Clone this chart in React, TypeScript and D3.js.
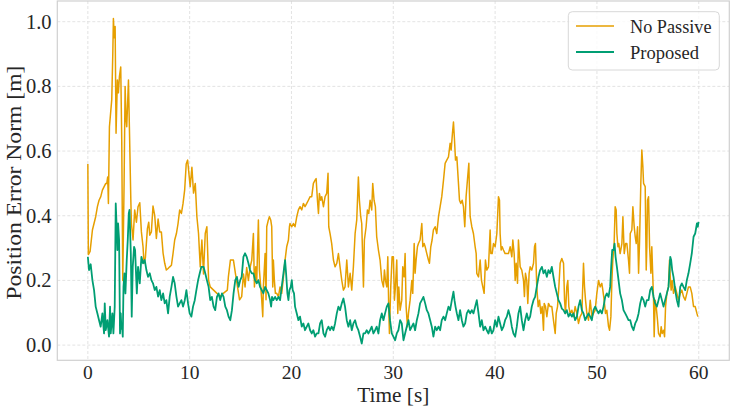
import React from 'react';
import * as d3 from 'd3';

// [time s, error m]
const noPassive: [number, number][] = [
  [0.0, 0.56], [0.05, 0.28], [0.22, 0.29], [0.45, 0.356], [0.77, 0.397], [0.94, 0.428], [1.1, 0.448],
  [1.27, 0.459], [1.43, 0.479], [1.6, 0.49], [1.76, 0.5], [1.86, 0.5], [1.95, 0.52], [2.02, 0.438],
  [2.12, 0.675], [2.35, 0.76],
  [2.45, 0.9], [2.51, 1.01], [2.6, 0.95], [2.68, 0.985], [2.77, 0.655], [2.9, 0.82], [3.0, 0.78],
  [3.1, 0.83], [3.23, 0.86], [3.33, 0.63], [3.43, 0.2], [3.56, 0.5], [3.66, 0.8], [3.75, 0.7],
  [3.82, 0.675], [3.99, 0.82], [4.08, 0.675], [4.22, 0.45], [4.28, 0.376], [4.44, 0.325], [4.6, 0.418],
  [4.77, 0.38], [4.93, 0.428], [5.1, 0.44], [5.26, 0.35], [5.42, 0.304], [5.52, 0.253], [5.65, 0.27],
  [5.85, 0.36], [5.98, 0.38], [6.08, 0.34], [6.24, 0.35], [6.4, 0.43], [6.57, 0.4], [6.73, 0.33],
  [6.9, 0.39], [7.06, 0.35], [7.22, 0.35], [7.39, 0.284], [7.55, 0.253], [7.71, 0.232], [7.88, 0.237],
  [8.04, 0.242], [8.21, 0.247], [8.37, 0.284], [8.53, 0.325], [8.7, 0.345], [8.86, 0.376], [9.02, 0.418],
  [9.19, 0.407], [9.35, 0.438], [9.51, 0.48], [9.66, 0.56], [9.8, 0.572], [10.05, 0.49], [10.22, 0.55],
  [10.38, 0.47], [10.55, 0.5], [10.71, 0.397], [10.87, 0.345], [11.04, 0.242], [11.2, 0.325], [11.36, 0.22],
  [11.53, 0.345], [11.69, 0.366], [11.86, 0.2], [12.02, 0.18], [12.35, 0.17], [12.68, 0.16], [13.0, 0.15],
  [13.3, 0.16], [13.7, 0.17], [13.8, 0.21], [14.0, 0.263], [14.3, 0.263], [14.5, 0.22], [14.6, 0.2],
  [14.9, 0.14], [15.11, 0.15], [15.28, 0.22], [15.44, 0.18], [15.6, 0.24], [15.77, 0.2], [15.93, 0.24],
  [16.1, 0.263], [16.26, 0.345], [16.36, 0.18], [16.49, 0.242], [16.59, 0.2], [16.75, 0.387], [16.85, 0.232],
  [16.98, 0.18], [17.08, 0.14], [17.18, 0.088], [17.24, 0.18], [17.41, 0.283], [17.5, 0.14], [17.57, 0.366],
  [17.73, 0.387], [17.83, 0.397], [17.96, 0.387], [18.06, 0.366], [18.16, 0.18], [18.22, 0.263], [18.32, 0.2],
  [18.42, 0.16], [18.55, 0.16], [18.72, 0.15], [18.88, 0.18], [19.04, 0.16], [19.21, 0.21], [19.37, 0.263],
  [19.53, 0.304], [19.7, 0.325], [19.8, 0.366], [19.86, 0.376], [20.03, 0.366], [20.19, 0.376], [20.35, 0.366],
  [20.52, 0.397], [20.68, 0.418], [20.84, 0.428], [21.01, 0.418], [21.17, 0.438], [21.33, 0.428], [21.5, 0.438],
  [21.66, 0.448], [21.83, 0.459], [21.99, 0.459], [22.15, 0.5], [22.32, 0.51], [22.42, 0.515], [22.55, 0.448],
  [22.65, 0.407], [22.74, 0.469], [22.87, 0.448], [22.97, 0.459], [23.14, 0.428], [23.3, 0.459], [23.46, 0.469],
  [23.59, 0.531], [23.66, 0.366], [23.79, 0.345], [23.95, 0.314], [24.12, 0.263], [24.28, 0.242], [24.45, 0.253],
  [24.61, 0.283], [24.77, 0.242], [24.94, 0.2], [25.1, 0.17], [25.26, 0.18], [25.43, 0.263], [25.59, 0.18],
  [25.76, 0.222], [25.92, 0.17], [26.08, 0.242], [26.25, 0.345], [26.41, 0.387], [26.57, 0.52], [26.67, 0.448],
  [26.8, 0.397], [26.9, 0.376], [27.07, 0.18], [27.16, 0.325], [27.33, 0.366], [27.46, 0.418], [27.59, 0.407],
  [27.72, 0.448], [27.88, 0.418], [27.98, 0.5], [28.11, 0.448], [28.24, 0.428], [28.37, 0.335], [28.54, 0.294],
  [28.7, 0.263], [28.87, 0.2], [29.03, 0.18], [29.13, 0.232], [29.23, 0.2], [29.36, 0.18], [29.46, 0.273],
  [29.55, 0.119], [29.62, 0.036], [29.75, 0.18], [29.88, 0.273], [30.01, 0.273], [30.11, 0.139], [30.21, 0.18],
  [30.34, 0.263], [30.44, 0.098], [30.54, 0.18], [30.67, 0.108], [30.83, 0.139], [30.93, 0.242], [31.06, 0.211],
  [31.16, 0.283], [31.26, 0.119], [31.39, 0.057], [31.49, 0.098], [31.65, 0.139], [31.82, 0.2], [31.91, 0.16],
  [32.05, 0.314], [32.14, 0.222], [32.24, 0.263], [32.37, 0.304], [32.47, 0.314], [32.63, 0.325], [32.8, 0.376],
  [32.9, 0.304], [33.03, 0.314], [33.13, 0.304], [33.29, 0.283], [33.45, 0.263], [33.55, 0.253], [33.68, 0.304],
  [33.81, 0.325], [33.94, 0.356], [34.11, 0.366], [34.27, 0.345], [34.44, 0.397], [34.6, 0.428], [34.76, 0.459],
  [34.93, 0.51], [35.09, 0.562], [35.25, 0.572], [35.42, 0.582], [35.58, 0.624], [35.68, 0.603], [35.81, 0.655],
  [35.91, 0.69], [36.01, 0.634], [36.11, 0.572], [36.24, 0.582], [36.4, 0.5], [36.5, 0.448], [36.63, 0.438],
  [36.76, 0.448], [36.89, 0.428], [37.02, 0.366], [37.15, 0.459], [37.28, 0.51], [37.42, 0.562], [37.48, 0.469],
  [37.55, 0.397], [37.71, 0.366], [37.87, 0.345], [38.04, 0.304], [38.14, 0.283], [38.2, 0.222], [38.37, 0.211],
  [38.53, 0.263], [38.66, 0.2], [38.79, 0.18], [38.92, 0.16], [39.05, 0.263], [39.18, 0.232], [39.35, 0.242],
  [39.51, 0.356], [39.58, 0.283], [39.71, 0.283], [39.84, 0.314], [40.0, 0.304], [40.17, 0.345], [40.33, 0.459],
  [40.43, 0.448], [40.49, 0.345], [40.59, 0.294], [40.69, 0.304], [40.82, 0.294], [40.98, 0.283], [41.15, 0.283],
  [41.31, 0.283], [41.48, 0.304], [41.64, 0.273], [41.74, 0.325], [41.87, 0.283], [41.97, 0.2], [42.07, 0.253],
  [42.2, 0.191], [42.29, 0.325], [42.46, 0.242], [42.62, 0.232], [42.79, 0.2], [42.88, 0.15], [42.98, 0.222],
  [43.11, 0.2], [43.21, 0.129], [43.34, 0.222], [43.44, 0.242], [43.6, 0.232], [43.77, 0.253], [43.87, 0.304],
  [43.96, 0.314], [44.09, 0.18], [44.23, 0.119], [44.36, 0.139], [44.49, 0.098], [44.62, 0.119], [44.75, 0.046],
  [44.82, 0.129], [44.95, 0.119], [45.08, 0.088], [45.24, 0.129], [45.4, 0.119], [45.57, 0.119], [45.73, 0.077],
  [45.9, 0.036], [46.0, 0.098], [46.13, 0.119], [46.26, 0.18], [46.39, 0.253], [46.55, 0.268], [46.72, 0.253],
  [46.82, 0.139], [46.91, 0.098], [47.04, 0.18], [47.14, 0.2], [47.24, 0.119], [47.37, 0.098], [47.54, 0.108],
  [47.7, 0.088], [47.86, 0.119], [48.03, 0.098], [48.19, 0.067], [48.35, 0.088], [48.52, 0.098], [48.68, 0.253],
  [48.78, 0.18], [48.88, 0.139], [49.01, 0.098], [49.17, 0.077], [49.34, 0.139], [49.5, 0.088], [49.66, 0.098],
  [49.83, 0.108], [49.99, 0.16], [50.16, 0.2], [50.32, 0.18], [50.48, 0.191], [50.58, 0.17], [50.71, 0.139],
  [50.84, 0.098], [50.97, 0.108], [51.14, 0.057], [51.24, 0.046], [51.37, 0.088], [51.47, 0.2], [51.56, 0.263],
  [51.69, 0.314], [51.79, 0.428], [51.89, 0.418], [51.96, 0.345], [52.06, 0.304], [52.15, 0.314], [52.28, 0.283],
  [52.45, 0.314], [52.55, 0.397], [52.68, 0.283], [52.81, 0.314], [52.94, 0.314], [53.1, 0.263], [53.2, 0.222],
  [53.27, 0.345], [53.43, 0.356], [53.53, 0.428], [53.66, 0.366], [53.76, 0.335], [53.86, 0.314], [53.99, 0.366],
  [54.09, 0.222], [54.18, 0.314], [54.31, 0.5], [54.41, 0.603], [54.51, 0.552], [54.58, 0.5], [54.74, 0.49],
  [54.84, 0.232], [54.9, 0.304], [54.97, 0.448], [55.07, 0.459], [55.17, 0.304], [55.3, 0.222], [55.39, 0.304],
  [55.56, 0.139], [55.62, 0.026], [55.72, 0.139], [55.82, 0.119], [55.95, 0.077], [56.05, 0.036], [56.21, 0.026],
  [56.31, 0.057], [56.41, 0.036], [56.54, 0.046], [56.64, 0.026], [56.74, 0.119], [56.87, 0.16], [57.03, 0.18],
  [57.13, 0.263], [57.2, 0.211], [57.29, 0.17], [57.39, 0.2], [57.52, 0.16], [57.69, 0.18], [57.85, 0.16],
  [58.01, 0.139], [58.18, 0.16], [58.34, 0.17], [58.5, 0.15], [58.67, 0.139], [58.83, 0.16], [58.99, 0.18],
  [59.16, 0.18], [59.32, 0.16], [59.49, 0.119], [59.65, 0.119], [59.82, 0.098], [59.91, 0.088],
];

const proposed: [number, number][] = [
  [0.0, 0.273], [0.12, 0.232], [0.28, 0.25], [0.45, 0.2], [0.61, 0.17], [0.77, 0.119], [0.94, 0.098],
  [1.1, 0.077], [1.26, 0.057], [1.43, 0.098], [1.59, 0.036], [1.66, 0.129], [1.76, 0.046], [1.92, 0.077],
  [2.08, 0.026], [2.18, 0.119], [2.25, 0.036], [2.41, 0.098], [2.51, 0.036], [2.64, 0.119], [2.74, 0.438],
  [2.84, 0.356], [2.9, 0.294], [2.97, 0.376], [3.07, 0.325], [3.16, 0.036], [3.23, 0.098], [3.3, 0.05],
  [3.36, 0.057], [3.43, 0.026], [3.5, 0.18], [3.59, 0.222], [3.69, 0.16], [3.82, 0.263], [3.92, 0.325],
  [4.02, 0.407], [4.09, 0.418], [4.22, 0.284], [4.31, 0.088], [4.41, 0.242], [4.54, 0.304], [4.64, 0.294],
  [4.81, 0.16], [4.93, 0.242], [5.1, 0.191], [5.26, 0.273], [5.42, 0.253], [5.59, 0.263], [5.75, 0.232],
  [5.91, 0.211], [6.08, 0.222], [6.24, 0.201], [6.4, 0.191], [6.57, 0.17], [6.73, 0.18], [6.9, 0.15],
  [7.06, 0.17], [7.22, 0.139], [7.39, 0.16], [7.55, 0.129], [7.71, 0.139], [7.88, 0.098], [8.04, 0.15],
  [8.21, 0.18], [8.37, 0.211], [8.53, 0.191], [8.7, 0.15], [8.86, 0.119], [9.02, 0.129], [9.19, 0.139],
  [9.35, 0.119], [9.52, 0.139], [9.68, 0.17], [9.84, 0.129], [10.0, 0.098], [10.17, 0.088], [10.33, 0.119],
  [10.5, 0.139], [10.66, 0.17], [10.83, 0.201], [10.99, 0.222], [11.15, 0.242], [11.36, 0.242], [11.53, 0.222],
  [11.69, 0.201], [11.86, 0.18], [12.02, 0.139], [12.18, 0.149], [12.35, 0.119], [12.51, 0.108], [12.68, 0.149],
  [12.84, 0.16], [13.0, 0.139], [13.17, 0.16], [13.33, 0.149], [13.5, 0.119], [13.66, 0.108], [13.82, 0.088],
  [13.99, 0.077], [14.15, 0.108], [14.31, 0.16], [14.48, 0.201], [14.64, 0.211], [14.81, 0.18], [14.97, 0.201],
  [15.11, 0.211], [15.28, 0.273], [15.44, 0.284], [15.6, 0.273], [15.77, 0.253], [15.93, 0.232], [16.1, 0.222],
  [16.26, 0.222], [16.42, 0.201], [16.59, 0.191], [16.75, 0.201], [16.91, 0.18], [17.08, 0.17], [17.24, 0.16],
  [17.41, 0.18], [17.57, 0.17], [17.73, 0.16], [17.9, 0.139], [18.0, 0.119], [18.09, 0.149], [18.22, 0.139],
  [18.39, 0.149], [18.55, 0.139], [18.72, 0.149], [18.88, 0.139], [19.04, 0.18], [19.21, 0.222], [19.37, 0.263],
  [19.47, 0.222], [19.6, 0.16], [19.7, 0.139], [19.8, 0.17], [19.93, 0.18], [20.03, 0.201], [20.12, 0.17],
  [20.25, 0.16], [20.35, 0.119], [20.52, 0.098], [20.68, 0.077], [20.84, 0.088], [21.01, 0.057], [21.17, 0.067],
  [21.33, 0.046], [21.5, 0.057], [21.66, 0.067], [21.83, 0.046], [21.99, 0.036], [22.15, 0.046], [22.32, 0.026],
  [22.48, 0.036], [22.65, 0.036], [22.81, 0.067], [22.97, 0.077], [23.14, 0.036], [23.3, 0.026], [23.46, 0.046],
  [23.63, 0.057], [23.79, 0.046], [23.95, 0.057], [24.12, 0.046], [24.28, 0.067], [24.45, 0.098], [24.61, 0.119],
  [24.77, 0.108], [24.94, 0.129], [25.1, 0.144], [25.26, 0.119], [25.43, 0.077], [25.59, 0.057], [25.76, 0.077],
  [25.92, 0.046], [26.08, 0.067], [26.25, 0.077], [26.41, 0.057], [26.57, 0.046], [26.74, 0.026], [26.9, 0.005],
  [27.07, 0.036], [27.23, 0.036], [27.39, 0.046], [27.56, 0.036], [27.72, 0.046], [27.88, 0.057], [28.05, 0.036],
  [28.21, 0.046], [28.37, 0.057], [28.54, 0.036], [28.7, 0.077], [28.87, 0.098], [29.03, 0.077], [29.19, 0.098],
  [29.36, 0.119], [29.52, 0.129], [29.68, 0.077], [29.85, 0.036], [30.01, 0.026], [30.18, 0.015], [30.34, 0.036],
  [30.5, 0.046], [30.67, 0.077], [30.83, 0.067], [31.0, 0.015], [31.16, 0.036], [31.32, 0.057], [31.49, 0.077],
  [31.65, 0.046], [31.82, 0.057], [31.98, 0.067], [32.14, 0.046], [32.31, 0.077], [32.47, 0.098], [32.63, 0.129],
  [32.8, 0.139], [32.96, 0.149], [33.13, 0.129], [33.29, 0.108], [33.45, 0.098], [33.62, 0.077], [33.78, 0.057],
  [33.94, 0.026], [34.11, 0.057], [34.27, 0.046], [34.44, 0.057], [34.6, 0.046], [34.76, 0.077], [34.93, 0.088],
  [35.09, 0.077], [35.25, 0.098], [35.42, 0.119], [35.58, 0.108], [35.75, 0.139], [35.91, 0.165], [36.01, 0.139],
  [36.11, 0.119], [36.24, 0.098], [36.4, 0.077], [36.56, 0.108], [36.73, 0.077], [36.89, 0.057], [37.06, 0.067],
  [37.22, 0.098], [37.38, 0.108], [37.55, 0.098], [37.71, 0.108], [37.87, 0.098], [38.04, 0.119], [38.2, 0.139],
  [38.37, 0.098], [38.53, 0.057], [38.69, 0.077], [38.86, 0.046], [39.02, 0.057], [39.18, 0.046], [39.35, 0.036],
  [39.51, 0.057], [39.67, 0.036], [39.84, 0.046], [40.0, 0.077], [40.17, 0.057], [40.33, 0.088], [40.49, 0.067],
  [40.66, 0.046], [40.82, 0.057], [40.98, 0.077], [41.15, 0.088], [41.31, 0.108], [41.48, 0.088], [41.64, 0.057],
  [41.8, 0.036], [41.97, 0.026], [42.13, 0.057], [42.29, 0.098], [42.46, 0.119], [42.62, 0.077], [42.79, 0.046],
  [42.95, 0.077], [43.11, 0.098], [43.28, 0.077], [43.44, 0.088], [43.6, 0.119], [43.77, 0.139], [43.93, 0.149],
  [44.09, 0.18], [44.26, 0.211], [44.42, 0.232], [44.59, 0.242], [44.75, 0.222], [44.91, 0.232], [45.08, 0.211],
  [45.24, 0.232], [45.4, 0.222], [45.57, 0.242], [45.73, 0.211], [45.9, 0.18], [46.06, 0.16], [46.22, 0.139],
  [46.39, 0.129], [46.55, 0.113], [46.72, 0.108], [46.88, 0.098], [47.04, 0.108], [47.21, 0.088], [47.37, 0.098],
  [47.54, 0.088], [47.7, 0.098], [47.86, 0.077], [48.03, 0.088], [48.19, 0.119], [48.35, 0.139], [48.52, 0.108],
  [48.68, 0.098], [48.85, 0.077], [49.01, 0.088], [49.17, 0.098], [49.34, 0.088], [49.5, 0.077], [49.66, 0.108],
  [49.83, 0.119], [49.99, 0.108], [50.16, 0.098], [50.32, 0.108], [50.48, 0.098], [50.65, 0.119], [50.81, 0.149],
  [50.97, 0.16], [51.14, 0.149], [51.3, 0.18], [51.4, 0.242], [51.5, 0.294], [51.63, 0.294], [51.73, 0.314],
  [51.83, 0.273], [51.96, 0.242], [52.12, 0.201], [52.28, 0.16], [52.45, 0.139], [52.61, 0.108], [52.78, 0.098],
  [52.94, 0.088], [53.1, 0.077], [53.27, 0.077], [53.43, 0.057], [53.59, 0.046], [53.76, 0.067], [53.92, 0.077],
  [54.09, 0.098], [54.25, 0.129], [54.41, 0.149], [54.58, 0.139], [54.74, 0.119], [54.9, 0.139], [55.07, 0.139],
  [55.23, 0.17], [55.39, 0.18], [55.56, 0.149], [55.72, 0.129], [55.89, 0.119], [56.05, 0.139], [56.21, 0.16],
  [56.38, 0.139], [56.54, 0.119], [56.7, 0.139], [56.87, 0.16], [57.03, 0.18], [57.2, 0.273], [57.29, 0.263],
  [57.39, 0.232], [57.52, 0.211], [57.69, 0.17], [57.85, 0.139], [58.01, 0.119], [58.18, 0.18], [58.34, 0.191],
  [58.5, 0.18], [58.67, 0.17], [58.83, 0.201], [58.99, 0.222], [59.16, 0.253], [59.32, 0.284], [59.49, 0.335],
  [59.65, 0.345], [59.82, 0.376], [59.91, 0.366], [59.98, 0.381],
];

const xTicks = [0, 10, 20, 30, 40, 50, 60];
const yTicks = [0.0, 0.2, 0.4, 0.6, 0.8, 1.0];
const seriesNames = ['No Passive', 'Proposed'];
const seriesColors = ['#e69f00', '#009e73'];

const W = 731;
const H = 411;
const plot = { left: 57.3, right: 729.3, top: 1, bottom: 360.3 };
const font = '"Liberation Serif", "DejaVu Serif", serif';
const textColor = '#262626';

export default function App() {
  const x = d3.scaleLinear().domain([-3, 63]).range([plot.left, plot.right]);
  const y = d3.scaleLinear().domain([-0.047, 1.064]).range([plot.bottom, plot.top]);
  const line = d3.line<[number, number]>()
    .x(d => x(d[0]))
    .y(d => y(d[1]));

  const series = [noPassive, proposed];
  const widths = [1.5, 1.8];

  return (
    <svg
      width={W}
      height={H}
      style={{ position: 'absolute', left: 0, top: 0, background: '#fff' }}
      fontFamily={font}
    >
      <defs>
        <clipPath id="plot-clip">
          <rect x={plot.left} y={plot.top} width={plot.right - plot.left} height={plot.bottom - plot.top} />
        </clipPath>
      </defs>

      {/* grid */}
      {xTicks.map(t => (
        <line key={`gx${t}`} x1={x(t)} x2={x(t)} y1={plot.top} y2={plot.bottom}
          stroke="#dcdcdc" strokeWidth={0.8} strokeDasharray="3,2" />
      ))}
      {yTicks.map(t => (
        <line key={`gy${t}`} x1={plot.left} x2={plot.right} y1={y(t)} y2={y(t)}
          stroke="#dcdcdc" strokeWidth={0.8} strokeDasharray="3,2" />
      ))}

      {/* series */}
      <g clipPath="url(#plot-clip)">
        {series.map((s, i) => (
          <path key={seriesNames[i]} d={line(s) || ''} fill="none"
            stroke={seriesColors[i]} strokeWidth={widths[i]} strokeLinejoin="round" />
        ))}
      </g>

      {/* frame */}
      <rect x={plot.left} y={plot.top} width={plot.right - plot.left} height={plot.bottom - plot.top}
        fill="none" stroke="#d0d0d0" strokeWidth={1.2} />

      {/* tick labels */}
      {xTicks.map(t => (
        <text key={`tx${t}`} x={x(t)} y={378.5} textAnchor="middle" fontSize={19.5} fill={textColor}>
          {t}
        </text>
      ))}
      {yTicks.map(t => (
        <text key={`ty${t}`} x={51.5} y={y(t) + 7} textAnchor="end" fontSize={20.5} fill={textColor}>
          {t.toFixed(1)}
        </text>
      ))}

      {/* axis labels */}
      <text x={(plot.left + plot.right) / 2} y={401.5} textAnchor="middle" fontSize={20.5}
        fill={textColor} textLength={72} lengthAdjust="spacingAndGlyphs">
        Time [s]
      </text>
      <text transform={`translate(21,${(plot.top + plot.bottom) / 2 + 2}) rotate(-90)`} textAnchor="middle"
        fontSize={21.5} fill={textColor} textLength={234} lengthAdjust="spacingAndGlyphs">
        Position Error Norm [m]
      </text>

      {/* legend */}
      <g>
        <rect x={568.3} y={11.7} width={151} height={58.3} rx={4} fill="#fff" fillOpacity={0.8}
          stroke="#d8d8d8" strokeWidth={1} />
        {seriesNames.map((n, i) => (
          <g key={n}>
            <line x1={576} x2={614} y1={26 + i * 26} y2={26 + i * 26} stroke={seriesColors[i]} strokeWidth={widths[i]} />
            <text x={630} y={33.3 + i * 26} fontSize={19.5} fill={textColor}
              textLength={i === 0 ? 81.5 : 69} lengthAdjust="spacingAndGlyphs">
              {n}
            </text>
          </g>
        ))}
      </g>
    </svg>
  );
}
